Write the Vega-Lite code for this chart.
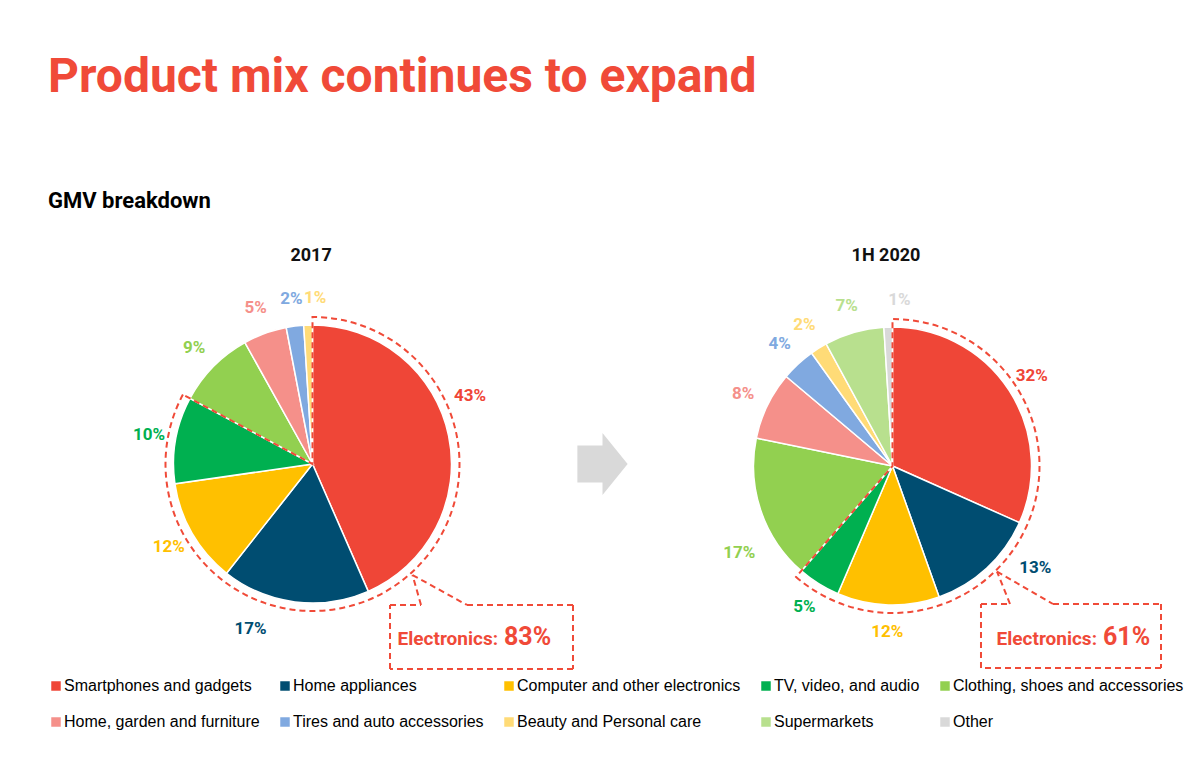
{
  "$schema": "https://vega.github.io/schema/vega-lite/v6.json",
  "padding": {"left": 48, "top": 54, "right": 0, "bottom": 0},
  "background": "white",
  "config": {"view": {"stroke": null}, "font": "Roboto"},
  "title": {
    "text": "Product mix continues to expand",
    "subtitle": "GMV breakdown",
    "anchor": "start",
    "font": "Roboto",
    "fontSize": 48,
    "fontWeight": "bold",
    "color": "#F04A38",
    "subtitleFont": "Roboto",
    "subtitleFontSize": 22,
    "subtitleFontWeight": "bold",
    "subtitleColor": "#000000",
    "subtitlePadding": 89,
    "offset": 28
  },
  "datasets": {
    "gmv": [
      {"period": "2017", "idx": 1, "category": "Smartphones and gadgets", "group": "Electronics", "share": 0.43},
      {"period": "2017", "idx": 2, "category": "Home appliances", "group": "Electronics", "share": 0.17},
      {"period": "2017", "idx": 3, "category": "Computer and other electronics", "group": "Electronics", "share": 0.12},
      {"period": "2017", "idx": 4, "category": "TV, video, and audio", "group": "Electronics", "share": 0.10},
      {"period": "2017", "idx": 5, "category": "Clothing, shoes and accessories", "group": "Non-electronics", "share": 0.09},
      {"period": "2017", "idx": 6, "category": "Home, garden and furniture", "group": "Non-electronics", "share": 0.05},
      {"period": "2017", "idx": 7, "category": "Tires and auto accessories", "group": "Non-electronics", "share": 0.02},
      {"period": "2017", "idx": 8, "category": "Beauty and Personal care", "group": "Non-electronics", "share": 0.01},
      {"period": "1H 2020", "idx": 1, "category": "Smartphones and gadgets", "group": "Electronics", "share": 0.32},
      {"period": "1H 2020", "idx": 2, "category": "Home appliances", "group": "Electronics", "share": 0.13},
      {"period": "1H 2020", "idx": 3, "category": "Computer and other electronics", "group": "Electronics", "share": 0.12},
      {"period": "1H 2020", "idx": 4, "category": "TV, video, and audio", "group": "Electronics", "share": 0.05},
      {"period": "1H 2020", "idx": 5, "category": "Clothing, shoes and accessories", "group": "Non-electronics", "share": 0.17},
      {"period": "1H 2020", "idx": 6, "category": "Home, garden and furniture", "group": "Non-electronics", "share": 0.08},
      {"period": "1H 2020", "idx": 7, "category": "Tires and auto accessories", "group": "Non-electronics", "share": 0.04},
      {"period": "1H 2020", "idx": 8, "category": "Beauty and Personal care", "group": "Non-electronics", "share": 0.02},
      {"period": "1H 2020", "idx": 9, "category": "Supermarkets", "group": "Non-electronics", "share": 0.07},
      {"period": "1H 2020", "idx": 10, "category": "Other", "group": "Non-electronics", "share": 0.01}
    ]
  },
  "spacing": 0,
  "bounds": "flush",
  "hconcat": [
    {
      "width": 530,
      "height": 434,
      "data": {"name": "gmv"},
      "transform": [{"filter": "datum.period == '2017'"}],
      "layer": [
        {
          "mark": {"type": "arc", "outerRadius": 139, "stroke": "white", "strokeWidth": 1.5},
          "encoding": {
            "x": {"datum": 0, "type": "quantitative", "scale": {"domain": [-188.93, 189.64], "nice": false, "zero": false}, "axis": null},
            "y": {"datum": 0, "type": "quantitative", "scale": {"domain": [-160, 150], "nice": false, "zero": false, "reverse": true}, "axis": null},
            "theta": {"field": "share", "type": "quantitative", "stack": true},
            "order": {"field": "idx", "type": "quantitative"},
            "color": {
              "field": "category",
              "type": "nominal",
              "scale": {
                "domain": ["Smartphones and gadgets", "Home appliances", "Computer and other electronics", "TV, video, and audio", "Clothing, shoes and accessories", "Home, garden and furniture", "Tires and auto accessories", "Beauty and Personal care", "Supermarkets", "Other"],
                "range": ["#EF4637", "#004D71", "#FFC000", "#00B050", "#92D050", "#F5908A", "#80A9E0", "#FFDB77", "#B8E08E", "#D9D9D9"]
              },
              "legend": {
                "orient": "bottom",
                "direction": "horizontal",
                "columns": 5,
                "title": null,
                "symbolType": "square",
                "symbolSize": 90,
                "symbolStrokeWidth": 0,
                "symbolOpacity": 1,
                "labelFont": "Liberation Sans",
                "labelFontSize": 16,
                "labelColor": "#000000",
                "labelLimit": 400,
                "labelOffset": 0,
                "columnPadding": 17,
                "rowPadding": 20,
                "offset": 4
              }
            }
          }
        },
        {
          "mark": {"type": "text", "radius": 166, "font": "Roboto", "fontSize": 17, "fontWeight": "bold", "align": "center", "baseline": "middle", "dx": {"expr": "datum.share <= 0.01 ? 8 : (datum.idx == 1 ? -5 : (datum.idx == 2 ? -41 : 0))"}, "dy": {"expr": "datum.idx == 1 ? -34 : 0"}},
          "encoding": {
            "x": {"datum": 0, "type": "quantitative"},
            "y": {"datum": 0, "type": "quantitative"},
            "theta": {"field": "share", "type": "quantitative", "stack": true},
            "order": {"field": "idx", "type": "quantitative"},
            "color": {"field": "category", "type": "nominal"},
            "text": {"field": "share", "type": "quantitative", "format": ".0%"}
          }
        },
        {
          "transform": [
            {"filter": "datum.group == 'Electronics'"},
            {"aggregate": [{"op": "sum", "field": "share", "as": "elec"}]}
          ],
          "mark": {"type": "arc", "outerRadius": 147, "filled": false, "stroke": "#F04A38", "strokeWidth": 2, "strokeDash": [6, 4]},
          "encoding": {
            "x": {"datum": 0, "type": "quantitative"},
            "y": {"datum": 0, "type": "quantitative"},
            "theta": {"field": "elec", "type": "quantitative"}
          }
        },
        {
          "data": {"values": [{}]},
          "mark": {"type": "text", "text": "2017", "align": "center", "baseline": "alphabetic", "font": "Roboto", "fontSize": 18, "fontWeight": "bold", "color": "#111111"},
          "encoding": {"x": {"datum": -1, "type": "quantitative"}, "y": {"datum": -145, "type": "quantitative"}}
        },
        {
          "data": {"values": [{}]},
          "mark": {"type": "rule", "color": "#F04A38", "strokeWidth": 2, "strokeDash": [6, 4]},
          "encoding": {"x": {"datum": 55.36, "type": "quantitative"}, "y": {"datum": 100.71, "type": "quantitative"}, "x2": {"datum": 77.5}, "y2": {"datum": 100.71}}
        },
        {
          "data": {"values": [{}]},
          "mark": {"type": "rule", "color": "#F04A38", "strokeWidth": 2, "strokeDash": [6, 4]},
          "encoding": {"x": {"datum": 77.5, "type": "quantitative"}, "y": {"datum": 100.71, "type": "quantitative"}, "x2": {"datum": 71.43}, "y2": {"datum": 79.29}}
        },
        {
          "data": {"values": [{}]},
          "mark": {"type": "rule", "color": "#F04A38", "strokeWidth": 2, "strokeDash": [6, 4]},
          "encoding": {"x": {"datum": 71.43, "type": "quantitative"}, "y": {"datum": 79.29, "type": "quantitative"}, "x2": {"datum": 110.36}, "y2": {"datum": 100.71}}
        },
        {
          "data": {"values": [{}]},
          "mark": {"type": "rule", "color": "#F04A38", "strokeWidth": 2, "strokeDash": [6, 4]},
          "encoding": {"x": {"datum": 110.36, "type": "quantitative"}, "y": {"datum": 100.71, "type": "quantitative"}, "x2": {"datum": 186.07}, "y2": {"datum": 100.71}}
        },
        {
          "data": {"values": [{}]},
          "mark": {"type": "rule", "color": "#F04A38", "strokeWidth": 2, "strokeDash": [6, 4]},
          "encoding": {"x": {"datum": 186.07, "type": "quantitative"}, "y": {"datum": 100.71, "type": "quantitative"}, "x2": {"datum": 186.07}, "y2": {"datum": 146.43}}
        },
        {
          "data": {"values": [{}]},
          "mark": {"type": "rule", "color": "#F04A38", "strokeWidth": 2, "strokeDash": [6, 4]},
          "encoding": {"x": {"datum": 186.07, "type": "quantitative"}, "y": {"datum": 146.43, "type": "quantitative"}, "x2": {"datum": 55.36}, "y2": {"datum": 146.43}}
        },
        {
          "data": {"values": [{}]},
          "mark": {"type": "rule", "color": "#F04A38", "strokeWidth": 2, "strokeDash": [6, 4]},
          "encoding": {"x": {"datum": 55.36, "type": "quantitative"}, "y": {"datum": 146.43, "type": "quantitative"}, "x2": {"datum": 55.36}, "y2": {"datum": 100.71}}
        },
        {
          "data": {"values": [{}]},
          "mark": {"type": "text", "text": "Electronics:", "align": "right", "baseline": "alphabetic", "font": "Roboto", "fontSize": 19, "fontWeight": "bold", "color": "#F04A38"},
          "encoding": {"x": {"datum": 132.5, "type": "quantitative"}, "y": {"datum": 129.29, "type": "quantitative"}}
        },
        {
          "data": {"values": [{}]},
          "mark": {"type": "text", "text": "83%", "align": "left", "baseline": "alphabetic", "font": "Roboto", "fontSize": 25, "fontWeight": "bold", "color": "#F04A38"},
          "encoding": {"x": {"datum": 136.79, "type": "quantitative"}, "y": {"datum": 129.29, "type": "quantitative"}}
        }
      ]
    },
    {
      "width": 49,
      "height": 434,
      "data": {"values": [{}]},
      "mark": {"type": "point", "shape": "M-0.81,-0.6L0,-0.6L0,-1L0.81,0L0,1L0,0.6L-0.81,0.6Z", "size": 3844, "filled": true, "color": "#D9D9D9", "opacity": 1, "strokeWidth": 0},
      "encoding": {
        "x": {"datum": 0, "type": "quantitative", "scale": {"domain": [-1, 1], "nice": false, "zero": false}, "axis": null},
        "y": {"datum": 0, "type": "quantitative", "scale": {"domain": [-160, 150], "nice": false, "zero": false, "reverse": true}, "axis": null}
      }
    },
    {
      "width": 558,
      "height": 434,
      "data": {"name": "gmv"},
      "transform": [{"filter": "datum.period == '1H 2020'"}],
      "layer": [
        {
          "mark": {"type": "arc", "outerRadius": 139, "stroke": "white", "strokeWidth": 1.5},
          "encoding": {
            "x": {"datum": 0, "type": "quantitative", "scale": {"domain": [-189.64, 208.93], "nice": false, "zero": false}, "axis": null},
            "y": {"datum": 0, "type": "quantitative", "scale": {"domain": [-161.43, 148.57], "nice": false, "zero": false, "reverse": true}, "axis": null},
            "theta": {"field": "share", "type": "quantitative", "stack": true},
            "order": {"field": "idx", "type": "quantitative"},
            "color": {"field": "category", "type": "nominal"}
          }
        },
        {
          "mark": {"type": "text", "radius": 166, "font": "Roboto", "fontSize": 17, "fontWeight": "bold", "align": "center", "baseline": "middle", "dx": {"expr": "datum.share <= 0.01 ? 12 : (datum.idx == 2 ? 30 : (datum.idx == 5 ? 4 : 0))"}, "dy": {"expr": "datum.idx == 2 ? -20 : (datum.idx == 5 ? 34 : 0)"}},
          "encoding": {
            "x": {"datum": 0, "type": "quantitative"},
            "y": {"datum": 0, "type": "quantitative"},
            "theta": {"field": "share", "type": "quantitative", "stack": true},
            "order": {"field": "idx", "type": "quantitative"},
            "color": {"field": "category", "type": "nominal"},
            "text": {"field": "share", "type": "quantitative", "format": ".0%"}
          }
        },
        {
          "transform": [
            {"filter": "datum.group == 'Electronics'"},
            {"aggregate": [{"op": "sum", "field": "share", "as": "elec"}]}
          ],
          "mark": {"type": "arc", "outerRadius": 147, "filled": false, "stroke": "#F04A38", "strokeWidth": 2, "strokeDash": [6, 4]},
          "encoding": {
            "x": {"datum": 0, "type": "quantitative"},
            "y": {"datum": 0, "type": "quantitative"},
            "theta": {"field": "elec", "type": "quantitative"}
          }
        },
        {
          "data": {"values": [{}]},
          "mark": {"type": "text", "text": "1H 2020", "align": "center", "baseline": "alphabetic", "font": "Roboto", "fontSize": 18, "fontWeight": "bold", "color": "#111111"},
          "encoding": {"x": {"datum": -4.64, "type": "quantitative"}, "y": {"datum": -146.43, "type": "quantitative"}}
        },
        {
          "data": {"values": [{}]},
          "mark": {"type": "rule", "color": "#F04A38", "strokeWidth": 2, "strokeDash": [6, 4]},
          "encoding": {"x": {"datum": 63.21, "type": "quantitative"}, "y": {"datum": 98.57, "type": "quantitative"}, "x2": {"datum": 83.93}, "y2": {"datum": 98.57}}
        },
        {
          "data": {"values": [{}]},
          "mark": {"type": "rule", "color": "#F04A38", "strokeWidth": 2, "strokeDash": [6, 4]},
          "encoding": {"x": {"datum": 83.93, "type": "quantitative"}, "y": {"datum": 98.57, "type": "quantitative"}, "x2": {"datum": 74.64}, "y2": {"datum": 75.36}}
        },
        {
          "data": {"values": [{}]},
          "mark": {"type": "rule", "color": "#F04A38", "strokeWidth": 2, "strokeDash": [6, 4]},
          "encoding": {"x": {"datum": 74.64, "type": "quantitative"}, "y": {"datum": 75.36, "type": "quantitative"}, "x2": {"datum": 114.64}, "y2": {"datum": 98.57}}
        },
        {
          "data": {"values": [{}]},
          "mark": {"type": "rule", "color": "#F04A38", "strokeWidth": 2, "strokeDash": [6, 4]},
          "encoding": {"x": {"datum": 114.64, "type": "quantitative"}, "y": {"datum": 98.57, "type": "quantitative"}, "x2": {"datum": 191.79}, "y2": {"datum": 98.57}}
        },
        {
          "data": {"values": [{}]},
          "mark": {"type": "rule", "color": "#F04A38", "strokeWidth": 2, "strokeDash": [6, 4]},
          "encoding": {"x": {"datum": 191.79, "type": "quantitative"}, "y": {"datum": 98.57, "type": "quantitative"}, "x2": {"datum": 191.79}, "y2": {"datum": 144.29}}
        },
        {
          "data": {"values": [{}]},
          "mark": {"type": "rule", "color": "#F04A38", "strokeWidth": 2, "strokeDash": [6, 4]},
          "encoding": {"x": {"datum": 191.79, "type": "quantitative"}, "y": {"datum": 144.29, "type": "quantitative"}, "x2": {"datum": 63.21}, "y2": {"datum": 144.29}}
        },
        {
          "data": {"values": [{}]},
          "mark": {"type": "rule", "color": "#F04A38", "strokeWidth": 2, "strokeDash": [6, 4]},
          "encoding": {"x": {"datum": 63.21, "type": "quantitative"}, "y": {"datum": 144.29, "type": "quantitative"}, "x2": {"datum": 63.21}, "y2": {"datum": 98.57}}
        },
        {
          "data": {"values": [{}]},
          "mark": {"type": "text", "text": "Electronics:", "align": "right", "baseline": "alphabetic", "font": "Roboto", "fontSize": 19, "fontWeight": "bold", "color": "#F04A38"},
          "encoding": {"x": {"datum": 146.07, "type": "quantitative"}, "y": {"datum": 127.86, "type": "quantitative"}}
        },
        {
          "data": {"values": [{}]},
          "mark": {"type": "text", "text": "61%", "align": "left", "baseline": "alphabetic", "font": "Roboto", "fontSize": 25, "fontWeight": "bold", "color": "#F04A38"},
          "encoding": {"x": {"datum": 150.36, "type": "quantitative"}, "y": {"datum": 127.86, "type": "quantitative"}}
        }
      ]
    }
  ]
}
